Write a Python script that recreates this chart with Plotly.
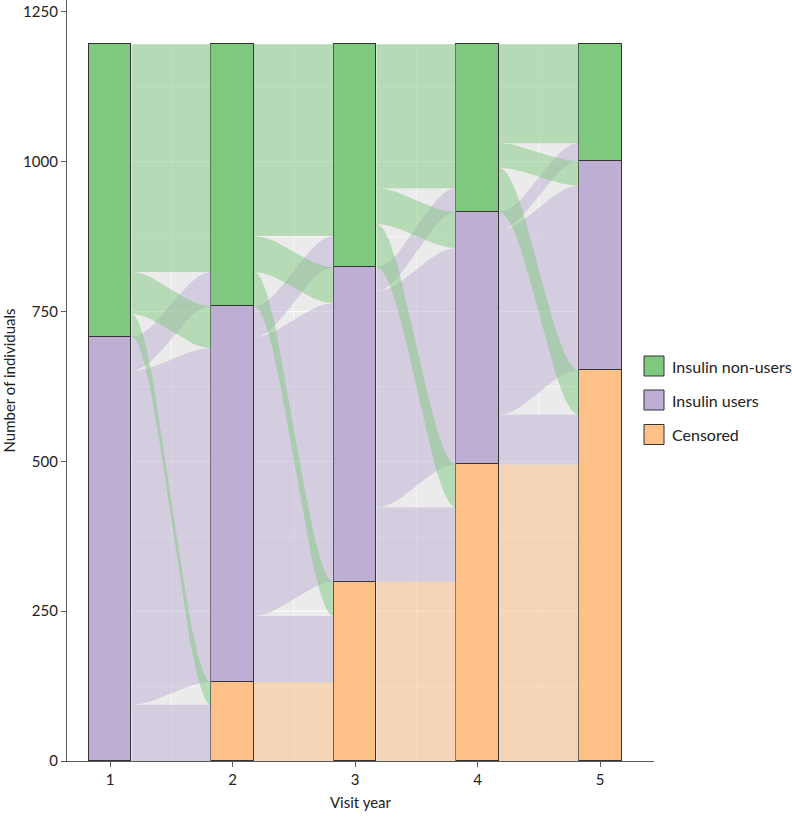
import numpy as np
import plotly.graph_objects as go

# ---------------- data ----------------
years = [1, 2, 3, 4, 5]
strata = ["Censored", "Insulin users", "Insulin non-users"]  # stacking order bottom -> top
censored = [0, 132, 299, 495, 652]
users = [708, 627, 525, 421, 349]
nonusers = [488, 437, 372, 280, 195]

# transitions between consecutive visits: rows = origin (Censored, Users, Non-users),
# columns = destination (Censored, Users, Non-users)
trans_1_2 = [[0, 0, 0], [94, 557, 57], [38, 70, 380]]
trans_2_3 = [[132, 0, 0], [110, 465, 52], [57, 60, 320]]
trans_3_4 = [[299, 0, 0], [124, 361, 40], [72, 60, 240]]
trans_4_5 = [[495, 0, 0], [83, 308, 30], [74, 41, 165]]
transitions = [trans_1_2, trans_2_3, trans_3_4, trans_4_5]

legend_order = ["Insulin non-users", "Insulin users", "Censored"]

# ---------------- style ----------------
solid = {"Censored": "#FDC086", "Insulin users": "#BEAED4", "Insulin non-users": "#7FC97F"}
flowc = {"Censored": "rgba(253,192,134,0.5)", "Insulin users": "rgba(190,174,212,0.5)",
         "Insulin non-users": "rgba(127,201,127,0.5)"}
W = 0.35
FONT = "Lato"
TXT = "#222222"
AX = "#5a5a5a"

counts = [censored, users, nonusers]
total = [sum(c[i] for c in counts) for i in range(len(years))]

fig = go.Figure()

# gray panel pieces + grid under flows
shapes = []
for k in range(len(years) - 1):
    xa = years[k] + W / 2
    xb = years[k + 1] - W / 2
    shapes.append(dict(type="rect", xref="x", yref="y", x0=xa, x1=xb, y0=0, y1=total[k],
                       fillcolor="#EBEBEB", line=dict(width=0), layer="below"))
    for gv in range(125, int(total[k]), 125):
        shapes.append(dict(type="line", xref="x", yref="y", x0=xa, x1=xb, y0=gv, y1=gv,
                           line=dict(color="white", width=1 if gv % 250 == 0 else 0.6), layer="below"))
    xm = (years[k] + years[k + 1]) / 2
    shapes.append(dict(type="line", xref="x", yref="y", x0=xm, x1=xm, y0=0, y1=total[k],
                       line=dict(color="white", width=0.6), layer="below"))

# flows
t = np.linspace(0, 1, 60)
s = t * t * (3 - 2 * t)
for k, T in enumerate(transitions):
    x0 = years[k] + W / 2
    x1 = years[k + 1] - W / 2
    base_l = np.cumsum([0] + [counts[j][k] for j in range(3)])
    base_r = np.cumsum([0] + [counts[j][k + 1] for j in range(3)])
    for o in range(3):
        for d in range(3):
            v = T[o][d]
            if v <= 0:
                continue
            yl0 = base_l[o] + sum(T[o][dd] for dd in range(d))
            yr0 = base_r[d] + sum(T[oo][d] for oo in range(o))
            xs = x0 + (x1 - x0) * t
            bot = yl0 + (yr0 - yl0) * s
            top = bot + v
            px = np.concatenate([xs, xs[::-1]])
            py = np.concatenate([bot, top[::-1]])
            fig.add_trace(go.Scatter(x=px, y=py, mode="lines", fill="toself",
                                     fillcolor=flowc[strata[o]], line=dict(width=0),
                                     hoverinfo="skip", showlegend=False))

# strata bars
for j, name in enumerate(strata):
    fig.add_trace(go.Bar(x=years, y=counts[j], width=W, name=name,
                         marker=dict(color=solid[name], line=dict(color="#333333", width=1)),
                         showlegend=False))

# manual legend (key squares + labels)
L, R, T0, B0 = 67, 654, 0, 761
def px_x(p):
    return (p - L) / (R - L)
def px_y(p):
    return (B0 - p) / (B0 - T0)

annotations = []
key_tops = [356, 390, 424.5]
for name, ky in zip(legend_order, key_tops):
    shapes.append(dict(type="rect", xref="paper", yref="paper", x0=px_x(644), x1=px_x(664),
                       y0=px_y(ky + 20), y1=px_y(ky), fillcolor=solid[name],
                       line=dict(color="#333333", width=1)))
    annotations.append(dict(xref="paper", yref="paper", x=px_x(670), y=px_y(ky + 10),
                            xanchor="left", yanchor="middle", text=name, showarrow=False,
                            font=dict(family=FONT, size=16, color=TXT)))

fig.update_layout(
    width=792, height=819,
    margin=dict(l=67, r=138, t=0, b=58),
    paper_bgcolor="white", plot_bgcolor="white",
    barmode="stack", bargap=0,
    shapes=shapes, annotations=annotations,
    font=dict(family=FONT, size=15, color=TXT),
    showlegend=False,
)
fig.update_xaxes(range=[0.649, 5.44], tickvals=years, ticktext=[str(y) for y in years],
                 automargin=False,
                 showgrid=False, zeroline=False, showline=True, linecolor=AX, linewidth=1.2,
                 ticks="outside", ticklen=5, tickcolor=AX, tickfont=dict(size=15, color=TXT),
                 title=dict(text="Visit year", font=dict(size=15, color=TXT), standoff=10))
fig.update_yaxes(range=[0, 1270], tickvals=[0, 250, 500, 750, 1000, 1250],
                 automargin=False,
                 showgrid=False, zeroline=False, showline=True, linecolor=AX, linewidth=1.2,
                 ticks="outside", ticklen=5, tickcolor=AX, tickfont=dict(size=15, color=TXT),
                 title=dict(text="Number of individuals", font=dict(size=15, color=TXT), standoff=8))

fig.write_html("out.html", config={"displayModeBar": False},
               post_script="document.body.style.margin='0';document.body.style.overflow='hidden';")
